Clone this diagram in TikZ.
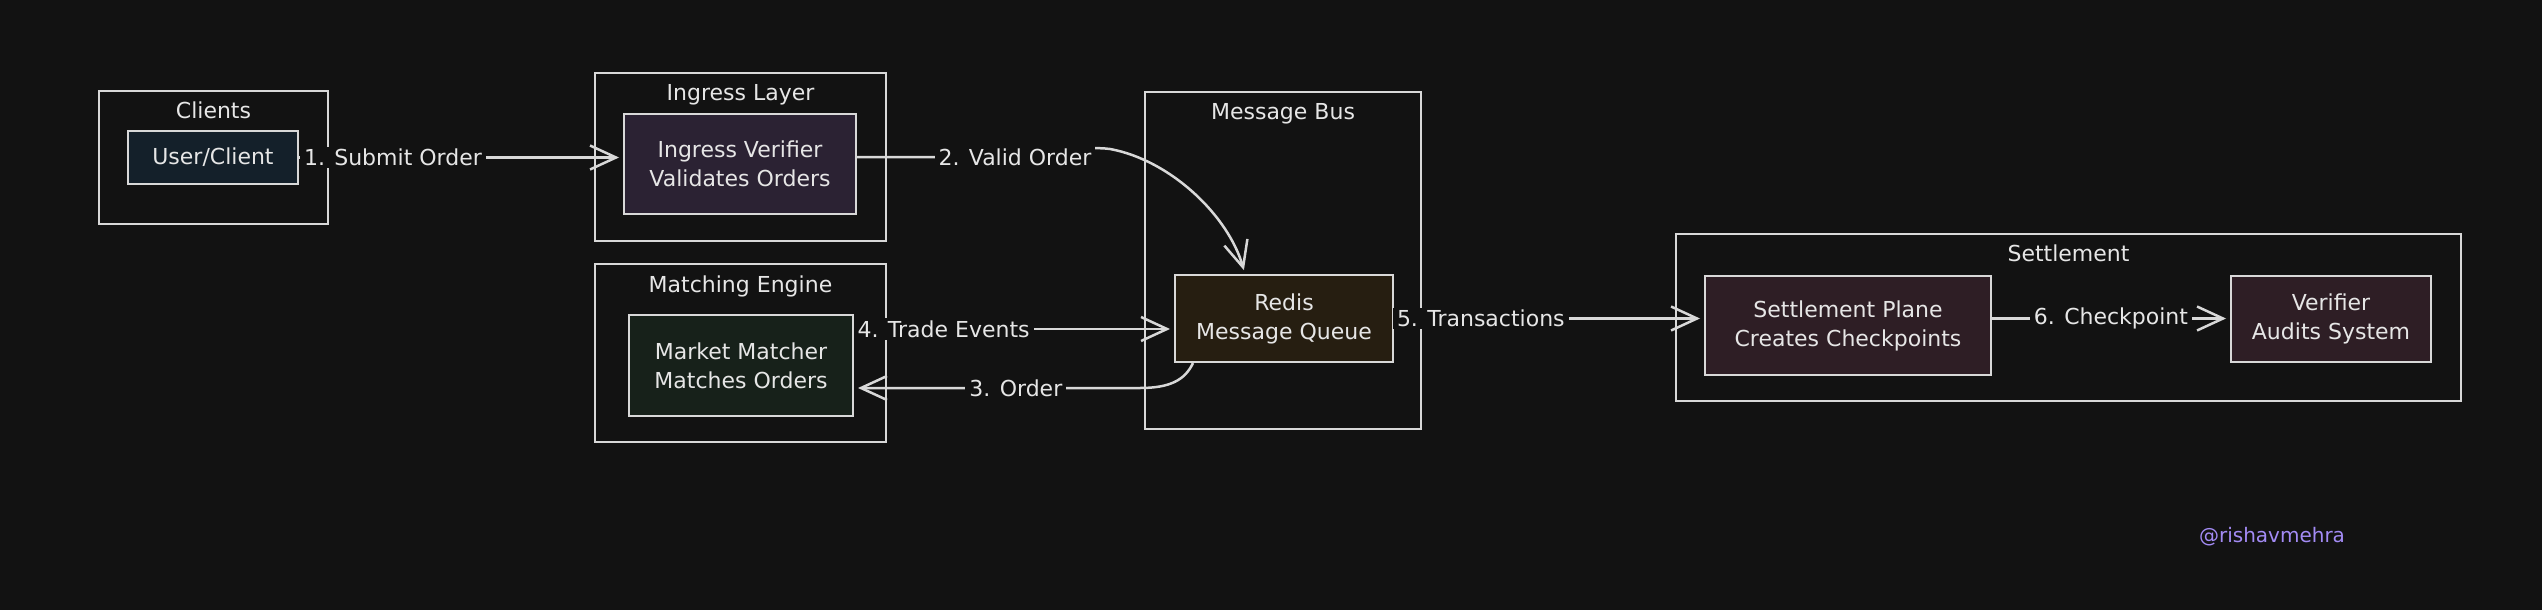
\documentclass[tikz,border=0pt]{standalone}
\usepackage{fontspec}
\setmainfont{DejaVu Sans}
\usetikzlibrary{arrows.meta}
\definecolor{bgc}{HTML}{121212}
\definecolor{strk}{HTML}{D8D8D8}
\definecolor{txtc}{HTML}{E6E6E6}
\definecolor{fclient}{HTML}{14202A}
\definecolor{fingress}{HTML}{2B2233}
\definecolor{fmatch}{HTML}{17211A}
\definecolor{fredis}{HTML}{261E11}
\definecolor{fsettle}{HTML}{2E1E25}
\definecolor{wmark}{HTML}{A38BF5}
\begin{document}
\begin{tikzpicture}[x=1pt,y=-1pt,
  group/.style={draw=strk, line width=1.8pt, rectangle, inner sep=0pt},
  comp/.style={draw=strk, line width=2pt, rectangle, inner sep=0pt, text=txtc, align=center, font=\fontsize{22}{29}\selectfont},
  gtitle/.style={text=txtc, anchor=base, font=\fontsize{22}{29}\selectfont, inner sep=0pt},
  conn/.style={draw=strk, line width=2.5pt, -{Straight Barb[length=26pt,width=24pt]}, shorten >=4pt},
  lbl/.style={fill=bgc, text=txtc, font=\fontsize{22}{29}\selectfont, inner xsep=4pt, inner ysep=2pt}
]
\fill[bgc] (0,0) rectangle (2542,610);
\useasboundingbox (0,0) rectangle (2542,610);

% groups
\node[group, minimum width=229pt, minimum height=133pt] (gcl) at (213.5,157.5) {};
\node[gtitle] (tcl) at ([yshift=-28pt]gcl.north) {Clients};
\node[group, minimum width=291pt, minimum height=168pt] (gin) at (740.5,157) {};
\node[gtitle] (tin) at ([yshift=-28pt]gin.north) {Ingress Layer};
\node[group, minimum width=291pt, minimum height=178pt] (gme) at (740.5,353) {};
\node[gtitle] (tme) at ([yshift=-29pt]gme.north) {Matching Engine};
\node[group, minimum width=276pt, minimum height=337pt] (gmb) at (1283,260.5) {};
\node[gtitle] (tmb) at ([yshift=-28pt]gmb.north) {Message Bus};
\node[group, minimum width=785pt, minimum height=167pt] (gst) at (2068.5,317.5) {};
\node[gtitle] (tst) at ([yshift=-28pt]gst.north) {Settlement};

% components
\node[comp, fill=fclient, minimum width=170pt, minimum height=53pt] (uc) at (213,157.5) {User/Client};
\node[comp, fill=fingress, minimum width=232pt, minimum height=100pt] (iv) at (740,164) {Ingress Verifier\\Validates Orders};
\node[comp, fill=fmatch, minimum width=224pt, minimum height=101pt] (mm) at (741,365.5) {Market Matcher\\Matches Orders};
\node[comp, fill=fredis, minimum width=218pt, minimum height=87pt] (rq) at (1284,318.5) {Redis\\Message Queue};
\node[comp, fill=fsettle, minimum width=286pt, minimum height=99pt] (sp) at (1848,325.5) {Settlement Plane\\Creates Checkpoints};
\node[comp, fill=fsettle, minimum width=200pt, minimum height=86pt] (vf) at (2331,319) {Verifier\\Audits System};

\node[text=wmark, font=\fontsize{20}{24}\selectfont] (wm) at (2272,537) {@rishavmehra};

% connectors
\draw[conn] (uc.east) -- node[lbl,pos=0.29]{1. Submit Order} (uc.east -| iv.west);
\draw[conn] ([yshift=7pt]iv.east) -- (1015,157) node[lbl]{2. Valid Order}
  .. controls (1060,157) and (1080,145) .. (1110,149)
  .. controls (1170,160) and (1228,215) .. ([xshift=-39pt]rq.north);
\draw[conn] ([xshift=-91pt]rq.south) .. controls (1185,380) and (1170,388) .. (1140,388)
  -- node[lbl,pos=0.434]{3. Order} ([yshift=-22.5pt]mm.east);
\draw[conn] ([yshift=36.5pt]mm.east) -- node[lbl,pos=0.28]{4. Trade Events} ([yshift=36.5pt]mm.east -| rq.west);
\draw[conn] (rq.east) -- node[lbl,pos=0.28]{5. Transactions} (rq.east -| sp.west);
\draw[conn] (rq.east -| sp.east) -- node[lbl,pos=0.5]{6. Checkpoint} (rq.east -| vf.west);
\end{tikzpicture}
\end{document}
